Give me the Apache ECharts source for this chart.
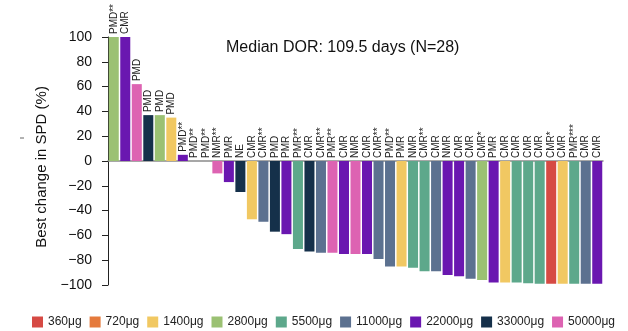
<!DOCTYPE html>
<html>
<head>
<meta charset="utf-8">
<script src="https://cdn.jsdelivr.net/npm/echarts@6/dist/echarts.min.js"></script>
<style>html,body{margin:0;padding:0;background:#fff;}#c{width:628px;height:331px;}</style>
</head>
<body>
<div id="c"></div>
<script>
// Best change in SPD (%) per patient, sorted
const values = [100, 100, 62, 37, 37, 35, 5, 0, 0, -10, -17, -25, -47, -49, -57, -59, -71, -73, -74, -74, -75, -75, -75, -79, -85, -85, -86, -89, -89, -92, -93, -95, -96, -98, -98, -98, -98.5, -99, -99, -99, -99, -99, -99];
const responses = ['PMD**', 'CMR', 'PMD', 'PMD', 'PMD', 'PMD', 'PMD**', 'PMD**', 'PMD**', 'NMR**', 'PMR', 'NE', 'CMR', 'CMR**', 'PMD', 'PMR', 'PMR**', 'CMR', 'CMR**', 'PMR**', 'CMR', 'NMR', 'CMR', 'CMR**', 'PMD**', 'PMR', 'NMR', 'CMR**', 'CMR', 'NMR', 'CMR', 'CMR', 'CMR*', 'PMR', 'CMR', 'CMR', 'CMR', 'CMR', 'CMR*', 'CMR', 'PMR***', 'CMR', 'CMR'];
const barDoses = ['2800μg', '22000μg', '50000μg', '33000μg', '2800μg', '1400μg', '22000μg', '22000μg', '22000μg', '50000μg', '22000μg', '33000μg', '1400μg', '11000μg', '33000μg', '22000μg', '5500μg', '33000μg', '11000μg', '50000μg', '22000μg', '50000μg', '22000μg', '11000μg', '11000μg', '1400μg', '5500μg', '5500μg', '11000μg', '22000μg', '22000μg', '11000μg', '2800μg', '22000μg', '1400μg', '5500μg', '5500μg', '5500μg', '360μg', '1400μg', '5500μg', '11000μg', '22000μg'];
const doseNames = ['360μg', '720μg', '1400μg', '2800μg', '5500μg', '11000μg', '22000μg', '33000μg', '50000μg'];
const doseColors = ['#D64A44', '#E57A3C', '#F1C862', '#9BC173', '#5DA88B', '#5C7190', '#6A17B0', '#15304A', '#DD63B2'];
const yTicks = [-100, -80, -60, -40, -20, 0, 20, 40, 60, 80, 100];
const titleText = 'Median DOR: 109.5 days (N=28)';
const yName = 'Best change in SPD (%)';

const FONT = 'Liberation Sans, Arial, sans-serif';
const categories = values.map((v, i) => String(i + 1));

const series = doseNames.map((d, k) => ({
  name: d,
  type: 'bar',
  stack: 'all',
  barCategoryGap: '13%',
  barGap: '-100%',
  itemStyle: { color: doseColors[k] },
  data: values.map((v, i) => barDoses[i] === d ? v : '-')
}));

series.push({
  name: 'labels',
  type: 'bar',
  barCategoryGap: '13%',
  barGap: '-100%',
  silent: true,
  itemStyle: { color: 'rgba(0,0,0,0)' },
  data: values.map(v => Math.max(v, 0)),
  label: {
    show: true,
    position: 'top',
    distance: 3,
    rotate: 90,
    align: 'left',
    verticalAlign: 'middle',
    fontSize: 10,
    fontFamily: FONT,
    color: '#222',
    formatter: p => responses[p.dataIndex]
  }
});

const chart = echarts.init(document.getElementById('c'), null, { renderer: 'canvas' });
chart.setOption({
  animation: false,
  backgroundColor: '#fff',
  title: {
    text: titleText,
    left: 226,
    top: 40,
    padding: 0,
    textStyle: { fontSize: 16, fontWeight: 'normal', color: '#111', fontFamily: FONT }
  },
  legend: {
    data: doseNames,
    left: 32,
    top: 316,
    padding: 0,
    icon: 'rect',
    itemWidth: 11,
    itemHeight: 11,
    itemGap: 8,
    textStyle: { fontSize: 12, color: '#222', fontFamily: FONT }
  },
  grid: { left: 108, right: 25, top: 37, bottom: 46, containLabel: false },
  xAxis: {
    type: 'category',
    data: categories,
    axisLine: { onZero: true, lineStyle: { color: '#8a8a8a', width: 1.5 } },
    axisTick: { show: false },
    axisLabel: { show: false },
    splitLine: { show: false }
  },
  yAxis: {
    type: 'value',
    min: yTicks[0],
    max: yTicks[yTicks.length - 1],
    interval: yTicks[1] - yTicks[0],
    axisLine: { show: true, onZero: false, lineStyle: { color: '#222', width: 1 } },
    axisTick: { show: true, length: 6, lineStyle: { color: '#222' } },
    axisLabel: {
      fontSize: 14,
      color: '#111',
      fontFamily: FONT,
      margin: 16,
      formatter: v => String(v).replace('-', '\u2212')
    },
    splitLine: { show: false }
  },
  graphic: [
    {
      type: 'text',
      x: 42,
      y: 167,
      rotation: Math.PI / 2,
      style: {
        text: yName,
        fontSize: 15,
        fontFamily: FONT,
        fill: '#111',
        textAlign: 'center',
        textVerticalAlign: 'middle'
      }
    },
    {
      type: 'line',
      shape: { x1: 20, y1: 138, x2: 24, y2: 138 },
      style: { stroke: '#666', lineWidth: 1 }
    }
  ],
  series: series
});
</script>
</body>
</html>
